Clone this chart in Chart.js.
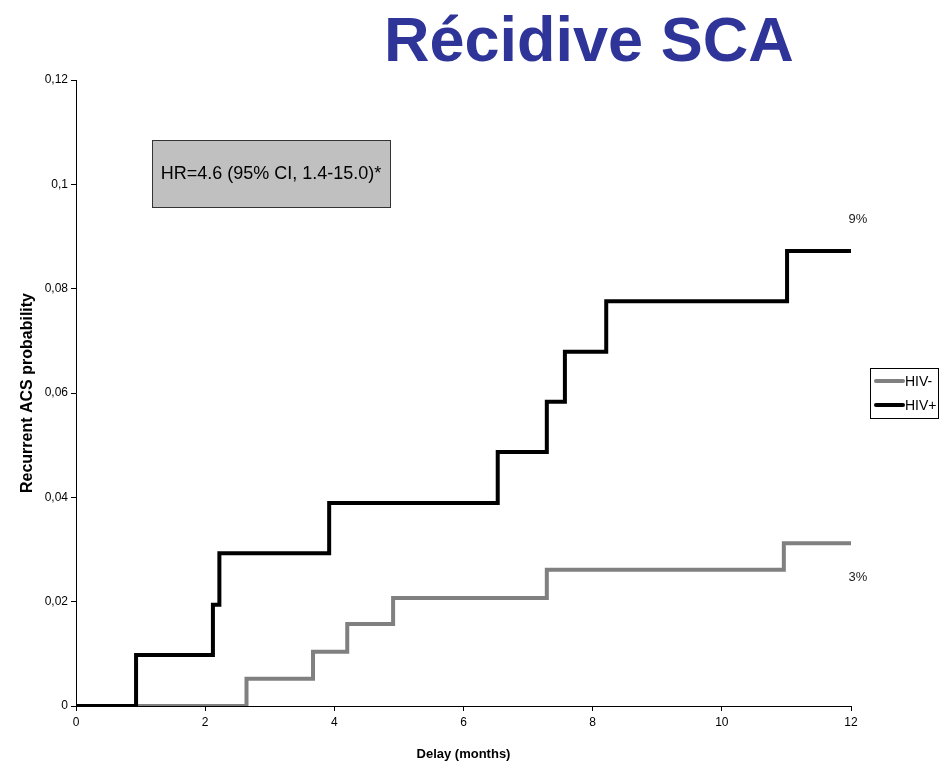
<!DOCTYPE html>
<html>
<head>
<meta charset="utf-8">
<script src="https://cdn.jsdelivr.net/npm/chart.js@4.4.0/dist/chart.umd.min.js"></script>
<style>
  html, body { margin: 0; padding: 0; background: #fff; }
  #wrap { position: relative; width: 940px; height: 772px; }
  #title {
    position: absolute; left: 384px; top: 3px;
    font-family: "Liberation Sans", Arial, sans-serif; font-weight: bold;
    font-size: 63px; color: #2f3499; white-space: nowrap;
  }
  canvas { position: absolute; left: 0; top: 0; }
</style>
</head>
<body>
<div id="wrap">
  <canvas id="kmChart" width="940" height="772"></canvas>
  <div id="title">Récidive SCA</div>
</div>
<script>
// Kaplan-Meier style cumulative incidence
const hivPosMonths = [0, 0.93, 2.12, 2.22, 3.92, 6.53, 7.29, 7.57, 8.21, 11.01, 12];
const hivPosProb   = [0, 0.0098, 0.0194, 0.0293, 0.0389, 0.0487, 0.0583, 0.0679, 0.0776, 0.0872, 0.0872];

const hivNegMonths = [0, 2.64, 3.67, 4.2, 4.91, 7.29, 10.96, 12];
const hivNegProb   = [0, 0.0052, 0.0104, 0.0157, 0.0207, 0.0261, 0.0312, 0.0312];

const yTickLabels = ['0', '0,02', '0,04', '0,06', '0,08', '0,1', '0,12'];
const endLabels = ['3%', '9%'];
const hrText = 'HR=4.6 (95% CI, 1.4-15.0)*';

const sans = "'Liberation Sans', Arial, sans-serif";

function toPoints(xs, ys) {
    return xs.map((x, i) => ({ x: x, y: ys[i] }));
}

// HR box, end percentages and the little legend on the right
const extrasPlugin = {
    id: 'extras',
    afterDraw(chart) {
        const ctx = chart.ctx;
        const xs = chart.scales.x, ys = chart.scales.y;
        ctx.save();

        // HR box
        ctx.fillStyle = '#c0c0c0';
        ctx.strokeStyle = '#333';
        ctx.lineWidth = 1;
        ctx.fillRect(152.5, 140.5, 238, 67);
        ctx.strokeRect(152.5, 140.5, 238, 67);
        ctx.fillStyle = '#000';
        ctx.font = "18px " + sans;
        ctx.textAlign = 'center';
        ctx.textBaseline = 'middle';
        ctx.fillText(hrText, 271, 174);

        // end-of-follow-up percentages
        ctx.font = "13px " + sans;
        ctx.fillStyle = '#222';
        const xEnd = xs.getPixelForValue(12) + 7;
        ctx.fillText(endLabels[1], xEnd, ys.getPixelForValue(hivPosProb[hivPosProb.length - 1]) - 32);
        ctx.fillText(endLabels[0], xEnd, ys.getPixelForValue(hivNegProb[hivNegProb.length - 1]) + 34);

        // legend
        ctx.strokeStyle = '#000';
        ctx.lineWidth = 1;
        ctx.strokeRect(870.5, 368.5, 68, 50);
        ctx.textAlign = 'left';
        ctx.font = "14px " + sans;
        ctx.lineCap = 'round';
        chart.data.datasets.forEach((ds, i) => {
            const yy = 381 + i * 24;
            ctx.strokeStyle = ds.borderColor;
            ctx.lineWidth = 4;
            ctx.beginPath();
            ctx.moveTo(876, yy);
            ctx.lineTo(903, yy);
            ctx.stroke();
            ctx.fillStyle = '#000';
            ctx.fillText(ds.label, 905, yy + 1);
        });
        ctx.restore();
    }
};

document.addEventListener('DOMContentLoaded', function() {
    const ctx = document.getElementById('kmChart').getContext('2d');
    new Chart(ctx, {
        type: 'line',
        data: {
            datasets: [{
                label: 'HIV-',
                data: toPoints(hivNegMonths, hivNegProb),
                borderColor: '#808080',
                borderWidth: 4,
                stepped: true,
                pointRadius: 0,
                fill: false,
                order: 2
            }, {
                label: 'HIV+',
                data: toPoints(hivPosMonths, hivPosProb),
                borderColor: '#000000',
                borderWidth: 4,
                stepped: true,
                pointRadius: 0,
                fill: false,
                order: 1
            }]
        },
        options: {
            responsive: false,
            animation: false,
            layout: { padding: { left: 18, right: 89, top: 80, bottom: 6 } },
            plugins: {
                legend: { display: false },
                tooltip: { enabled: false }
            },
            scales: {
                x: {
                    type: 'linear',
                    min: 0, max: 12,
                    afterFit: s => { s.height = 60; },
                    ticks: { stepSize: 2, color: '#000', font: { family: sans, size: 12 }, padding: 4, maxRotation: 0 },
                    grid: { display: true, drawOnChartArea: false, drawTicks: true, tickLength: 5, color: '#000' },
                    border: { color: '#000', width: 1 },
                    title: { display: true, text: 'Delay (months)', color: '#000',
                             font: { family: sans, size: 13, weight: 'bold' }, padding: { top: 10 } }
                },
                y: {
                    type: 'linear',
                    min: 0, max: 0.12,
                    afterFit: s => { s.width = 58; },
                    ticks: {
                        stepSize: 0.02, color: '#000', font: { family: sans, size: 12 }, padding: 3,
                        callback: (v, i) => yTickLabels[i]
                    },
                    grid: { display: true, drawOnChartArea: false, drawTicks: true, tickLength: 5, color: '#000' },
                    border: { color: '#000', width: 1 },
                    title: { display: true, text: 'Recurrent ACS probability', color: '#000',
                             font: { family: sans, size: 16, weight: 'bold' }, padding: 0 }
                }
            }
        },
        plugins: [extrasPlugin]
    });
});
</script>
</body>
</html>
